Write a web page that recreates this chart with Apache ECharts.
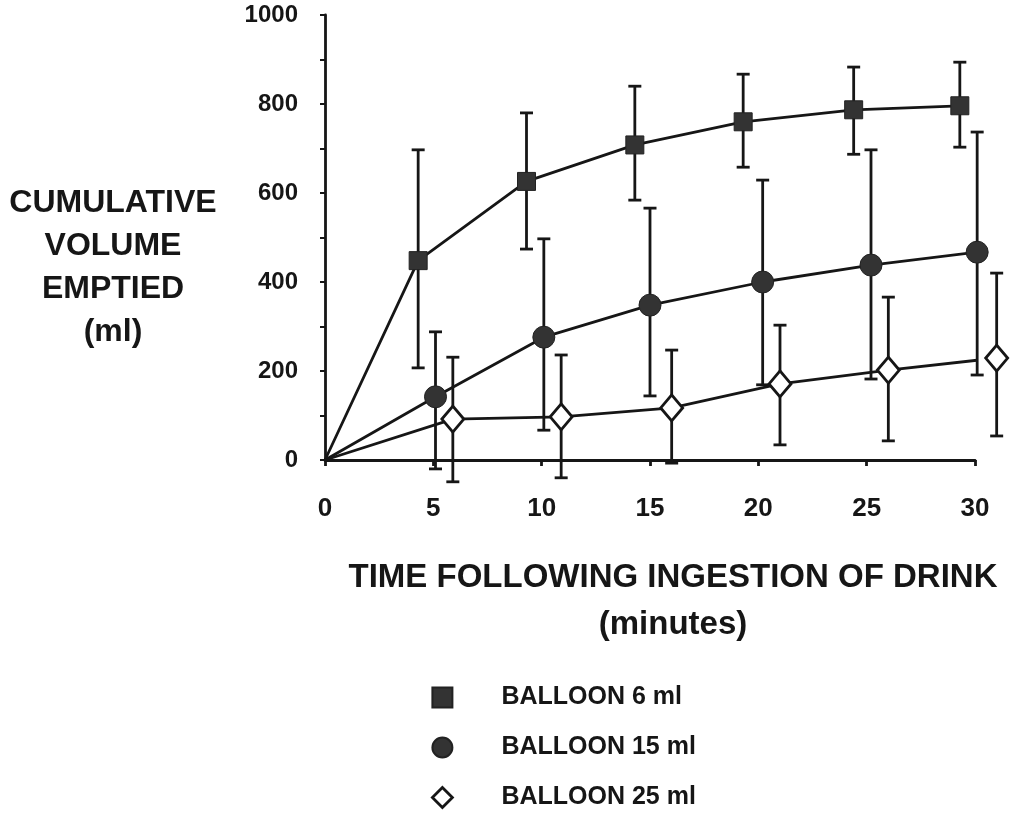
<!DOCTYPE html>
<html>
<head>
<meta charset="utf-8">
<script src="https://cdn.jsdelivr.net/npm/echarts@6/dist/echarts.min.js"></script>
<style>
  html, body { margin: 0; padding: 0; background: #fff; }
  #chart { width: 1014px; height: 816px; }
</style>
</head>
<body>
<div id="chart"></div>
<script>
// Cumulative volume emptied (ml) over time, three balloon volumes, mean with error bars
const xTicks = [0, 5, 10, 15, 20, 25, 30];
const yTicks = [0, 200, 400, 600, 800, 1000];

const names = ['BALLOON 6 ml', 'BALLOON 15 ml', 'BALLOON 25 ml'];

// Balloon 6 ml
const b6Time = [4.3, 9.3, 14.3, 19.3, 24.4, 29.3];
const b6Mean = [448, 626, 708, 760, 787, 796];
const b6High = [697, 780, 840, 867, 883, 894];
const b6Low  = [207, 474, 584, 658, 687, 703];

// Balloon 15 ml
const b15Time = [5.1, 10.1, 15.0, 20.2, 25.2, 30.1];
const b15Mean = [142, 276, 348, 400, 438, 467];
const b15High = [288, 497, 566, 629, 697, 737];
const b15Low  = [-20, 67, 144, 169, 182, 191];

// Balloon 25 ml
const b25Time = [5.9, 10.9, 16.0, 21.0, 26.0, 31.0];
const b25Mean = [92, 97, 117, 171, 202, 229];
const b25High = [231, 236, 247, 303, 366, 420];
const b25Low  = [-49, -40, -7, 34, 43, 54];

const FONT = '"Liberation Sans", Arial, sans-serif';
const INK = '#161616';
const LW = 2.8;

function lineData(t, m) {
  const d = [{ value: [0, 0], symbol: 'none' }];
  t.forEach((x, i) => d.push([x, m[i]]));
  return d;
}
function barData(t, lo, hi) {
  return t.map((x, i) => [x, lo[i], hi[i]]);
}
function renderErrorBar(params, api) {
  const x = api.value(0);
  const lo = api.coord([x, api.value(1)]);
  const hi = api.coord([x, api.value(2)]);
  const half = 6.5;
  const st = { stroke: INK, lineWidth: LW };
  return {
    type: 'group',
    children: [
      { type: 'line', shape: { x1: lo[0], y1: lo[1], x2: hi[0], y2: hi[1] }, style: st },
      { type: 'line', shape: { x1: hi[0] - half, y1: hi[1], x2: hi[0] + half, y2: hi[1] }, style: st },
      { type: 'line', shape: { x1: lo[0] - half, y1: lo[1], x2: lo[0] + half, y2: lo[1] }, style: st }
    ]
  };
}
function errSeries(t, lo, hi) {
  return {
    type: 'custom', renderItem: renderErrorBar, data: barData(t, lo, hi),
    clip: false, z: 1, silent: true, encode: { x: 0, y: [1, 2] }
  };
}

const chart = echarts.init(document.getElementById('chart'), null, { renderer: 'canvas' });

chart.setOption({
  animation: false,
  backgroundColor: '#fff',
  grid: { left: 325, right: 39, top: 15, bottom: 356 },
  xAxis: {
    type: 'value', min: xTicks[0], max: xTicks[xTicks.length - 1], interval: 5,
    axisLine: { lineStyle: { color: INK, width: LW } },
    axisTick: { show: true, inside: false, length: 6, lineStyle: { color: INK, width: LW } },
    axisLabel: { margin: 36, fontFamily: FONT, fontWeight: 'bold', fontSize: 26, color: INK },
    splitLine: { show: false }
  },
  yAxis: {
    type: 'value', min: yTicks[0], max: yTicks[yTicks.length - 1], interval: 200,
    axisLine: { show: true, lineStyle: { color: INK, width: LW } },
    axisTick: { show: true, inside: false, length: 5, lineStyle: { color: INK, width: 2 } },
    minorTick: { show: true, splitNumber: 2, length: 5, lineStyle: { color: INK, width: 2 } },
    axisLabel: {
      margin: 27, fontFamily: FONT, fontWeight: 'bold', fontSize: 24, color: INK,
      formatter: (v) => String(v)
    },
    splitLine: { show: false }
  },
  legend: {
    orient: 'vertical', left: 426, top: 680,
    itemWidth: 20, itemHeight: 20, itemGap: 25,
    textStyle: { fontFamily: FONT, fontWeight: 'bold', fontSize: 25, color: INK, padding: [0, 0, 0, 44] },
    data: [
      { name: names[0], icon: 'rect', itemStyle: { color: '#333' } },
      { name: names[1], icon: 'circle', itemStyle: { color: '#333' } },
      { name: names[2], icon: 'diamond', itemStyle: { color: '#fff', borderColor: INK, borderWidth: 2.8 } }
    ]
  },
  graphic: [
    {
      type: 'text', x: 113, y: 268,
      style: {
        text: 'CUMULATIVE\nVOLUME\nEMPTIED\n(ml)',
        fontFamily: FONT, fontWeight: 'bold', fontSize: 32, lineHeight: 43,
        fill: INK, align: 'center', verticalAlign: 'middle'
      }
    },
    {
      type: 'text', x: 673, y: 601,
      style: {
        text: 'TIME FOLLOWING INGESTION OF DRINK\n(minutes)',
        fontFamily: FONT, fontWeight: 'bold', fontSize: 33, lineHeight: 47,
        fill: INK, align: 'center', verticalAlign: 'middle'
      }
    }
  ],
  series: [
    errSeries(b6Time, b6Low, b6High),
    errSeries(b15Time, b15Low, b15High),
    errSeries(b25Time, b25Low, b25High),
    {
      name: names[0], type: 'line', data: lineData(b6Time, b6Mean), clip: false, z: 3,
      symbol: 'rect', symbolSize: 18, showAllSymbol: true,
      lineStyle: { color: INK, width: LW }, itemStyle: { color: '#333', borderColor: '#222', borderWidth: 1 }
    },
    {
      name: names[1], type: 'line', data: lineData(b15Time, b15Mean), clip: false, z: 3,
      symbol: 'circle', symbolSize: 22, showAllSymbol: true,
      lineStyle: { color: INK, width: LW }, itemStyle: { color: '#333', borderColor: '#222', borderWidth: 1 }
    },
    {
      name: names[2], type: 'line', data: lineData(b25Time, b25Mean), clip: false, z: 3,
      symbol: 'diamond', symbolSize: [22, 26], showAllSymbol: true,
      lineStyle: { color: INK, width: LW }, itemStyle: { color: '#fff', borderColor: INK, borderWidth: LW }
    }
  ]
});
</script>
</body>
</html>
